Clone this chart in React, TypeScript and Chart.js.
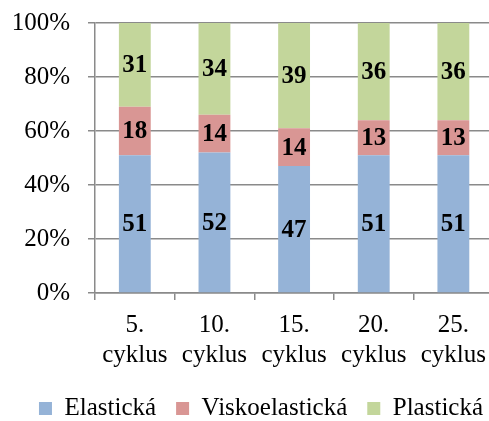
import React, { useEffect, useRef } from "react";
import { Chart, registerables } from "chart.js";

Chart.register(...registerables);

const cycles: string[][] = [
  ["5.", "cyklus"],
  ["10.", "cyklus"],
  ["15.", "cyklus"],
  ["20.", "cyklus"],
  ["25.", "cyklus"],
];
const elasticka = [51, 52, 47, 51, 51];
const viskoelasticka = [18, 14, 14, 13, 13];
const plasticka = [31, 34, 39, 36, 36];
const yTicks = [0, 20, 40, 60, 80, 100];

const SERIF = "'Liberation Serif', 'Times New Roman', serif";
const GRID = "#8a8a8a";

// Writes each segment's value in bold in the middle of its bar piece.
const segmentLabels = {
  id: "segmentLabels",
  afterDatasetsDraw(chart: any) {
    const ctx = chart.ctx;
    ctx.save();
    ctx.font = `bold 25px ${SERIF}`;
    ctx.fillStyle = "#000";
    ctx.textAlign = "center";
    ctx.textBaseline = "middle";
    chart.data.datasets.forEach((ds: any, di: number) => {
      const meta = chart.getDatasetMeta(di);
      meta.data.forEach((el: any, i: number) => {
        const y = (el.y + el.base) / 2;
        ctx.fillText(String(ds.data[i]), el.x, y + 1);
      });
    });
    ctx.restore();
  },
};

// Moves the legend row a little to the right, under the plot.
const legendShift = {
  id: "legendShift",
  afterLayout(chart: any) {
    const lg = chart.legend;
    if (lg) {
      lg.left += 13;
      lg.right += 13;
    }
  },
};

export default function App() {
  const ref = useRef<HTMLCanvasElement>(null);

  useEffect(() => {
    if (!ref.current) return;
    const chart = new Chart(ref.current, {
      type: "bar",
      data: {
        labels: cycles,
        datasets: [
          { label: "Elastická", data: elasticka, backgroundColor: "#95B3D7" },
          { label: "Viskoelastická", data: viskoelasticka, backgroundColor: "#D99694" },
          { label: "Plastická", data: plasticka, backgroundColor: "#C3D69B" },
        ],
      },
      options: {
        responsive: false,
        animation: false,
        devicePixelRatio: 1,
        layout: { padding: { left: 0, top: 23, right: 0, bottom: 0 } },
        datasets: {
          bar: { categoryPercentage: 1, barPercentage: 0.4, borderWidth: 0 },
        },
        scales: {
          x: {
            stacked: true,
            offset: true,
            grid: {
              offset: true,
              drawOnChartArea: false,
              drawTicks: true,
              tickLength: 7,
              color: GRID,
              lineWidth: 1.5,
            },
            border: { color: GRID, width: 1.5 },
            ticks: {
              color: "#000",
              font: { family: SERIF, size: 25, lineHeight: 1.2 },
              padding: 10,
              maxRotation: 0,
              autoSkip: false,
            },
            afterFit(scale: any) {
              scale.height = 83;
            },
          },
          y: {
            stacked: true,
            min: 0,
            max: 100,
            afterBuildTicks(scale: any) {
              scale.ticks = yTicks.map((v) => ({ value: v }));
            },
            grid: {
              drawTicks: true,
              tickLength: 7,
              color: GRID,
              lineWidth: 1.5,
            },
            border: { color: GRID, width: 1.5 },
            ticks: {
              color: "#000",
              font: { family: SERIF, size: 25 },
              padding: 18,
              callback: (v: any) => `${v}%`,
            },
            afterFit(scale: any) {
              scale.width = 95;
              scale.paddingTop = 0;
              scale.paddingBottom = 0;
            },
          },
        },
        plugins: {
          tooltip: { enabled: false },
          legend: {
            position: "bottom",
            labels: {
              color: "#000",
              font: { family: SERIF, size: 25 },
              boxWidth: 13,
              boxHeight: 13,
              padding: 20,
            },
          },
        },
      },
      plugins: [segmentLabels, legendShift],
    });
    return () => chart.destroy();
  }, []);

  return (
    <div
      style={{
        position: "fixed",
        left: 0,
        top: 0,
        width: 489,
        height: 421,
        overflow: "hidden",
        background: "#fff",
      }}
    >
      <canvas ref={ref} width={496} height={431} style={{ display: "block" }} />
    </div>
  );
}
